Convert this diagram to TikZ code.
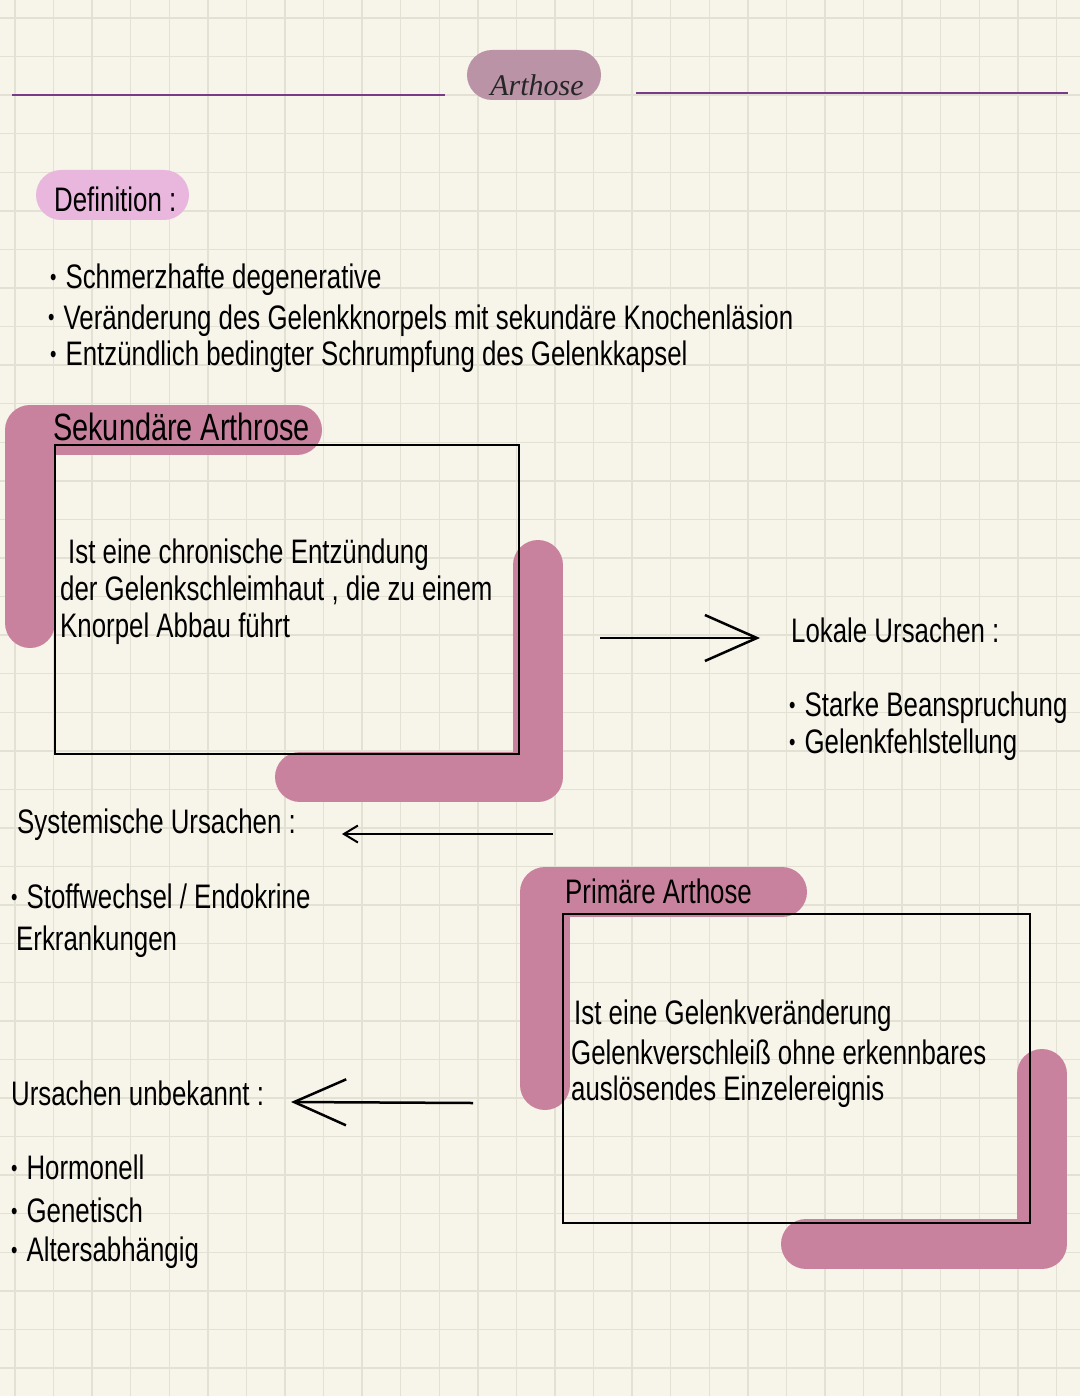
\documentclass[tikz,border=0pt]{standalone}
\usepackage{fontspec}
\setmainfont[FakeStretch=0.76]{Liberation Sans}
\newfontfamily\titlefont{Liberation Serif}
\usetikzlibrary{arrows.meta}
\definecolor{paper}{RGB}{247,244,233}
\definecolor{gridc}{RGB}{226,225,211}
\definecolor{band}{RGB}{201,130,157}
\definecolor{pinkpill}{RGB}{233,183,221}
\definecolor{mauve}{RGB}{186,147,166}
\definecolor{purp}{RGB}{122,58,138}
\newcommand{\mybul}{{\fontsize{24}{24}\selectfont\raisebox{3pt}{•}}\hspace{9pt}}
\begin{document}
\begin{tikzpicture}[x=1pt,y=-1pt,
  txt/.style={anchor=base west,inner sep=0pt,font=\fontsize{34}{40}\selectfont,text=black},
  bigtxt/.style={txt,font=\fontsize{38}{44}\selectfont},
  bandline/.style={band,line width=50pt,line cap=round,line join=round},
  boxframe/.style={draw=black,line width=2pt,anchor=north west,inner sep=0pt},
  rule/.style={purp,line width=2.5pt},
  pill/.style={rounded corners=25pt,minimum height=50pt,inner sep=0pt},
  bigarrow/.style={line width=2.5pt,-{Straight Barb[length=52pt,width=46pt,line width=2.5pt]}},
  smallarrow/.style={line width=2pt,-{Straight Barb[length=14pt,width=17pt,line width=2pt]}}
]
\useasboundingbox (0,0) rectangle (1080,1396);
\fill[paper] (0,0) rectangle (1080,1396);
\foreach \i in {0,...,27} \draw[gridc,line width=1.5pt] ({15+38.57*\i},0) -- ++(0,1396);
\foreach \j in {0,...,35} \draw[gridc,line width=1.5pt] (0,{18+38.57*\j}) -- ++(1080,0);

% header
\node[pill,fill=mauve,minimum width=134pt] (title) at (534,75) {};
\node[inner sep=0pt,font=\titlefont\itshape\fontsize{30}{32}\selectfont,text=black!85] (titletxt) at (537,85) {Arthose};
\coordinate (rl1) at (12,95); \coordinate (rl2) at (445,95);
\coordinate (rr1) at (636,93); \coordinate (rr2) at (1068,93);
\draw[rule] (rl1) -- (rl2);
\draw[rule] (rr1) -- (rr2);

% definition
\node[pill,fill=pinkpill,minimum width=153pt] (defpill) at (112.5,195) {};
\node[txt] (deftxt) at (54,212) {Definition :};
\node[txt] (d1) at (50,289) {\mybul Schmerzhafte degenerative};
\node[txt] (d2) at (48,329) {\mybul Veränderung des Gelenkknorpels mit sekundäre Knochenläsion};
\node[txt] (d3) at (50,365) {\mybul Entzündlich bedingter Schrumpfung des Gelenkkapsel};

% sekundaere arthrose
\draw[bandline] (30,623) -- (30,430) -- (297,430);
\draw[bandline] (538,565) -- (538,777) -- (300,777);
\node[boxframe,minimum width=464pt,minimum height=309pt] (sekbox) at (54,444) {};
\node[bigtxt] (sektitle) at (53,440) {Sekundäre Arthrose};
\node[txt] (s1) at (68,563) {Ist eine chronische Entzündung};
\node[txt] (s2) at (60,600) {der Gelenkschleimhaut , die zu einem};
\node[txt] (s3) at (60,637) {Knorpel Abbau führt};

% lokale ursachen
\node[txt] (lokal) at (791,642) {Lokale Ursachen :};
\node[txt] (l1) at (789,716) {\mybul Starke Beanspruchung};
\node[txt] (l2) at (789,753) {\mybul Gelenkfehlstellung};
\coordinate (a1s) at (600,638); \coordinate (a1e) at (760,638);
\draw[bigarrow] (a1s) -- (a1e);

% systemische ursachen
\node[txt] (sys) at (17,833) {Systemische Ursachen :};
\node[txt] (y1) at (11,908) {\mybul Stoffwechsel / Endokrine};
\node[txt] (y2) at (16,950) {Erkrankungen};
\coordinate (a2s) at (553,834); \coordinate (a2e) at (342,834);
\draw[smallarrow] (a2s) -- (a2e);

% primaere arthrose
\draw[bandline] (545,1085) -- (545,892) -- (782,892);
\draw[bandline] (1042,1074) -- (1042,1244) -- (806,1244);
\node[boxframe,minimum width=467pt,minimum height=309pt] (primbox) at (562,913) {};
\node[txt] (primtitle) at (565,903) {Primäre Arthose};
\node[txt] (p1) at (574,1024) {Ist eine Gelenkveränderung};
\node[txt] (p2) at (571,1064) {Gelenkverschleiß ohne erkennbares};
\node[txt] (p3) at (571,1100) {auslösendes Einzelereignis};

% ursachen unbekannt
\node[txt] (unb) at (11,1105) {Ursachen unbekannt :};
\node[txt] (u1) at (11,1179) {\mybul Hormonell};
\node[txt] (u2) at (11,1222) {\mybul Genetisch};
\node[txt] (u3) at (11,1261) {\mybul Altersabhängig};
\coordinate (a3s) at (473,1103); \coordinate (a3e) at (291,1102);
\draw[bigarrow] (a3s) -- (a3e);
\end{tikzpicture}
\end{document}
